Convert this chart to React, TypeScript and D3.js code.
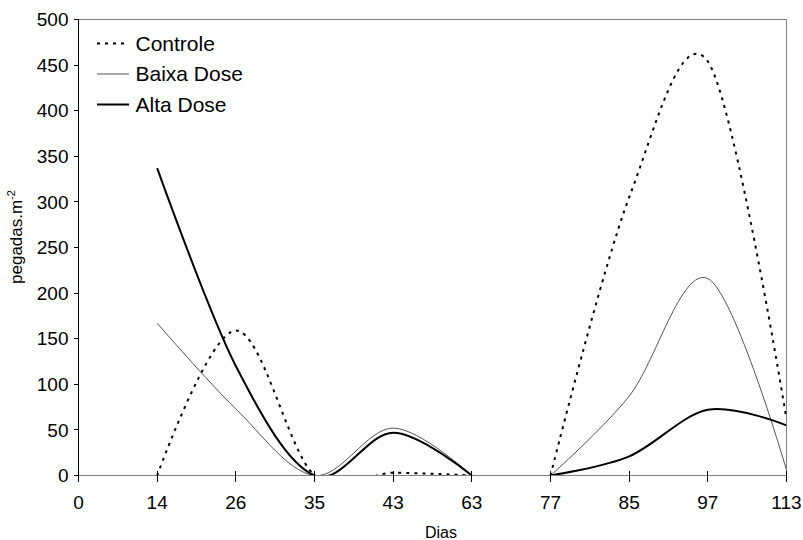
import React from "react";
import * as d3 from "d3";

const categories = ["0", "14", "26", "35", "43", "63", "77", "85", "97", "113"];
const controle: (number | null)[] = [null, 0, 159, 0, 3, 0, 0, 305, 454, 62];
const baixaDose: (number | null)[] = [null, 167, 73, 0, 52, 0, 0, 87, 216, 6];
const altaDose: (number | null)[] = [null, 337, 120, 0, 47, 0, 0, 21, 72, 55];
const yTicks = [0, 50, 100, 150, 200, 250, 300, 350, 400, 450, 500];
const gapAfter = "63";
const seriesNames = ["Controle", "Baixa Dose", "Alta Dose"];

const W = 803;
const H = 540;
const L = 78.5, R = 786.5, T = 19.5, B = 475.5;
const FONT = "'Liberation Sans', Arial, sans-serif";

export default function App() {
  const x = d3.scalePoint<string>().domain(categories).range([L, R]).padding(0);
  const y = d3.scaleLinear().domain([0, 500]).range([B, T]);

  const line = d3
    .line<{ c: string; v: number | null }>()
    .defined((d) => d.v !== null)
    .x((d) => x(d.c) as number)
    .y((d) => y(d.v as number))
    .curve(d3.curveCardinal.tension(0));

  const segments = (vals: (number | null)[]) => {
    const pts = categories.map((c, i) => ({ c, v: vals[i] }));
    const gi = categories.indexOf(gapAfter);
    return [pts.slice(0, gi + 1), pts.slice(gi + 1)];
  };

  const styles = [
    { data: controle, stroke: "#000", width: 2, dash: "3 5" },
    { data: baixaDose, stroke: "#555", width: 1, dash: undefined },
    { data: altaDose, stroke: "#000", width: 2, dash: undefined },
  ];

  const legendY = [43.5, 74, 104.5];

  return (
    <svg
      width={W}
      height={H}
      style={{ position: "fixed", left: 0, top: 0, background: "#fff" }}
      fontFamily={FONT}
    >
      <rect x={0} y={0} width={W} height={H} fill="#fff" />
      <defs>
        <clipPath id="plotclip">
          <rect x={L} y={T} width={R - L} height={B - T} />
        </clipPath>
      </defs>

      {/* plot border (top/right) */}
      <line x1={L} y1={T} x2={R} y2={T} stroke="#808080" strokeWidth={1} shapeRendering="crispEdges" />
      <line x1={R} y1={T} x2={R} y2={B} stroke="#808080" strokeWidth={1} shapeRendering="crispEdges" />

      {/* series */}
      <g clipPath="url(#plotclip)">
        {styles.map((s, si) =>
          segments(s.data).map((seg, k) => (
            <path
              key={si + "-" + k}
              d={line(seg) || ""}
              fill="none"
              stroke={s.stroke}
              strokeWidth={s.width}
              strokeDasharray={s.dash}
            />
          ))
        )}
      </g>

      {/* y axis */}
      <line x1={L} y1={T} x2={L} y2={B} stroke="#000" strokeWidth={1} shapeRendering="crispEdges" />
      {yTicks.map((t) => (
        <g key={"y" + t}>
          <line x1={L - 5} x2={L} y1={y(t)} y2={y(t)} stroke="#000" strokeWidth={1} shapeRendering="crispEdges" />
          <text x={L - 10} y={y(t)} dy="0.35em" textAnchor="end" fontSize={19} fill="#000">
            {t}
          </text>
        </g>
      ))}

      {/* x axis */}
      <line x1={L} y1={B} x2={R} y2={B} stroke="#808080" strokeWidth={1} shapeRendering="crispEdges" />
      {categories.map((c) => (
        <g key={"x" + c}>
          <line x1={x(c)} x2={x(c)} y1={B - 5} y2={B + 6} stroke="#000" strokeWidth={1} shapeRendering="crispEdges" />
          <text x={x(c)} y={509} textAnchor="middle" fontSize={19} fill="#000">
            {c}
          </text>
        </g>
      ))}

      {/* axis titles */}
      <text x={441} y={538} textAnchor="middle" fontSize={16} fill="#000">
        Dias
      </text>
      <text transform="translate(22,237) rotate(-90)" textAnchor="middle" fontSize={17} fill="#000">
        pegadas.m
        <tspan fontSize={11} dy={-7}>
          -2
        </tspan>
      </text>

      {/* legend */}
      {seriesNames.map((n, i) => (
        <g key={"lg" + n}>
          <line
            x1={97}
            x2={129}
            y1={legendY[i]}
            y2={legendY[i]}
            stroke={styles[i].stroke}
            strokeWidth={styles[i].width}
            strokeDasharray={styles[i].dash}
          />
          <text x={135.5} y={legendY[i]} dy="0.35em" fontSize={21} fill="#000">
            {n}
          </text>
        </g>
      ))}
    </svg>
  );
}
